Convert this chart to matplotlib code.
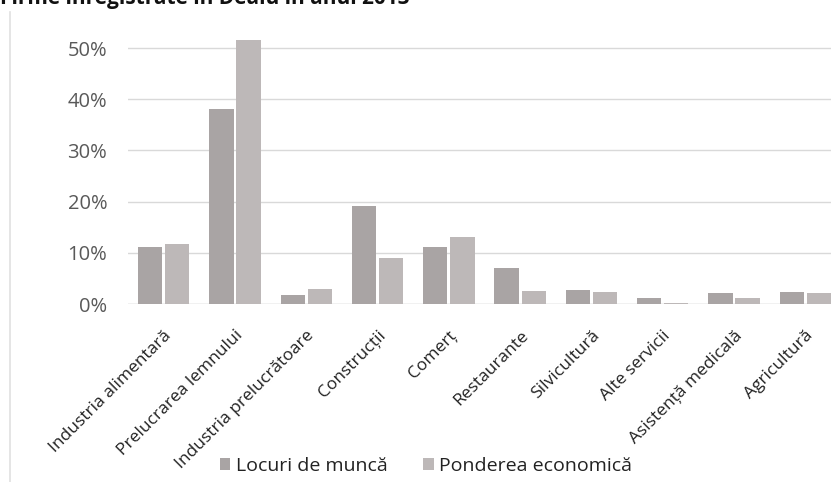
import matplotlib.pyplot as plt
import numpy as np
from matplotlib.ticker import FuncFormatter

categories = ["Industria alimentară", "Prelucrarea lemnului", "Industria prelucrătoare",
              "Construcții", "Comerț", "Restaurante", "Silvicultură", "Alte servicii",
              "Asistență medicală", "Agricultură"]
locuri_de_munca = [11.2, 38.0, 1.8, 19.2, 11.1, 7.0, 2.7, 1.1, 2.2, 2.4]
ponderea_economica = [11.7, 51.5, 3.0, 9.0, 13.1, 2.5, 2.3, 0.2, 1.2, 2.2]
y_ticks = [0, 10, 20, 30, 40, 50]
title = "Firme înregistrate în Dealu în anul 2013"

plt.rcParams['font.family'] = ['Open Sans', 'DejaVu Sans']

W, H = 831, 482
fig = plt.figure(figsize=(W / 100, H / 100), dpi=100)

# plot area in pixel coordinates; 0% sits at y=304, 50% at y=48
left, right, bottom = 128, 841, 304
px_per_pct = (304 - 48) / 50
top = 28
ymax = (bottom - top) / px_per_pct
ax = fig.add_axes([left / W, 1 - bottom / H, (right - left) / W, (bottom - top) / H])

x = np.arange(len(categories))
w = 0.34
ax.bar(x - 0.19, locuri_de_munca, width=w, color="#a9a4a4", label="Locuri de muncă", zorder=3)
ax.bar(x + 0.19, ponderea_economica, width=w, color="#bdb8b8", label="Ponderea economică", zorder=3)

ax.set_xlim(-0.5, len(categories) - 0.5)
ax.set_ylim(0, ymax)
ax.set_yticks(y_ticks)
ax.yaxis.set_major_formatter(FuncFormatter(lambda v, p: f"{v:.0f}%"))
ax.grid(axis="y", color="#d9d9d9", linewidth=1.0, zorder=0)
for s in ax.spines.values():
    s.set_visible(False)
ax.axhline(0, color="#d9d9d9", linewidth=1.0, zorder=2)
ax.tick_params(axis="both", length=0)
ax.tick_params(axis="y", labelsize=14.5, labelcolor="#595959", pad=15)
ax.set_xticks(x)
ax.set_xticklabels(categories, rotation=45, ha="right", rotation_mode="anchor",
                   fontsize=12.5, color="#222222")
ax.tick_params(axis="x", pad=17)

# legend below the chart
fig.legend(loc="center", bbox_to_anchor=(426 / W, 1 - 466 / H), ncol=2, frameon=False,
           fontsize=14, handlelength=0.55, handleheight=0.55, handletextpad=0.3,
           columnspacing=1.8, labelcolor="#222222")

# chart frame edge on the left
fig.add_artist(plt.Line2D([10 / W, 10 / W], [0, 1 - 12 / H], transform=fig.transFigure,
                          color="#e0e0e0", linewidth=1.2))

# title, cut at the top edge
fig.text(0.0, 1 - 4 / H, title, fontsize=15, fontweight="bold", color="#111111",
         va="baseline", ha="left")

fig.savefig("out.png", dpi=100)
